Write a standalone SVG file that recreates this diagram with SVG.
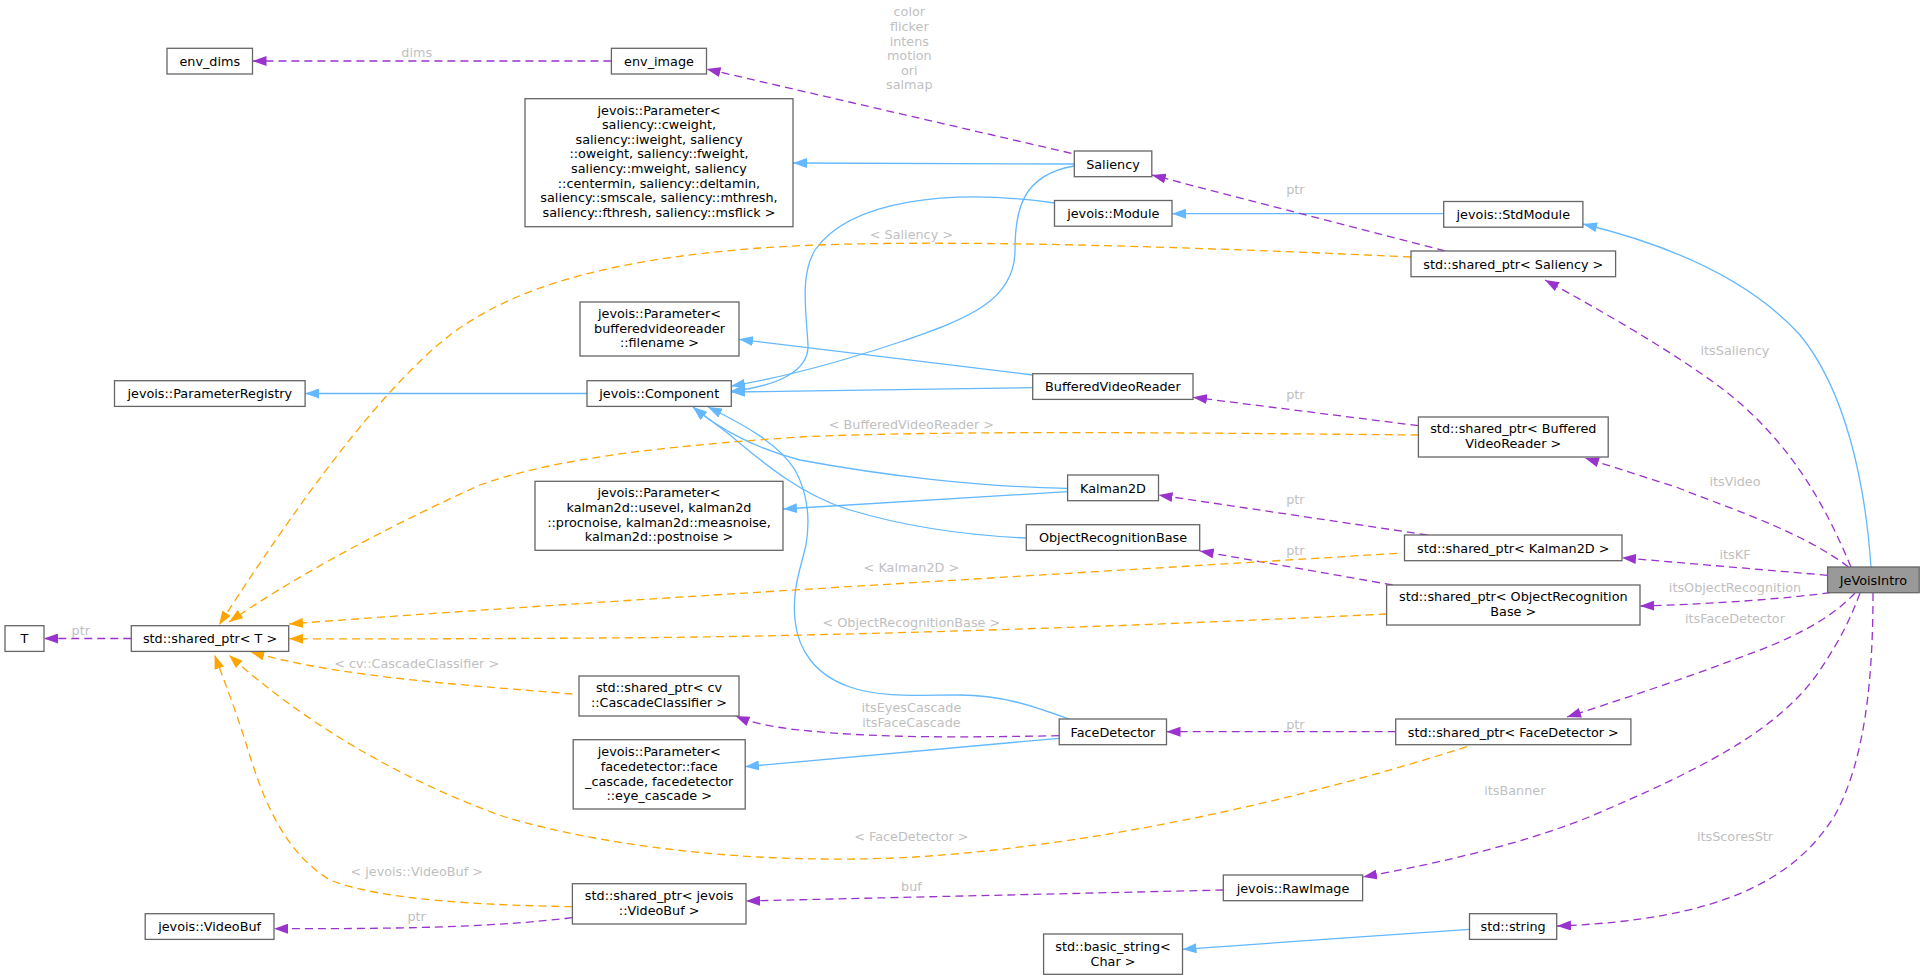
<svg xmlns="http://www.w3.org/2000/svg" width="1924" height="980" viewBox="0 0 1924 980">
<defs>
<style>
.n rect{fill:#ffffff;stroke:#666666;stroke-width:1.3}
.n text,.lbl{font-family:"DejaVu Sans","Liberation Sans",sans-serif;font-size:12.8px;text-anchor:middle}
.n text{fill:#000000}
.lbl{fill:#bfbfbf}
.inh{fill:none;stroke:#63b8ff;stroke-width:1.3;marker-end:url(#ab)}
.use{fill:none;stroke:#9a32cd;stroke-width:1.3;stroke-dasharray:8,5;marker-end:url(#ap)}
.tpl{fill:none;stroke:#ffa500;stroke-width:1.3;stroke-dasharray:8,5;marker-end:url(#ao)}
</style>
<marker id="ab" markerUnits="userSpaceOnUse" markerWidth="14" markerHeight="10" viewBox="0 0 14 10" refX="14" refY="5" orient="auto"><path d="M0,0 L14,5 L0,10 z" fill="#63b8ff"/></marker>
<marker id="ap" markerUnits="userSpaceOnUse" markerWidth="14" markerHeight="10" viewBox="0 0 14 10" refX="14" refY="5" orient="auto"><path d="M0,0 L14,5 L0,10 z" fill="#9a32cd"/></marker>
<marker id="ao" markerUnits="userSpaceOnUse" markerWidth="14" markerHeight="10" viewBox="0 0 14 10" refX="14" refY="5" orient="auto"><path d="M0,0 L14,5 L0,10 z" fill="#ffa500"/></marker>
</defs>
<rect x="0" y="0" width="1924" height="980" fill="#ffffff"/>

<g id="edges">
<!-- inheritance -->
<path class="inh" d="M1074,164 L793,163"/>
<path class="inh" d="M1074,166 C1022,175 1015,210 1015,250 C1015,300 970,318 900,342 C840,362 780,378 731,386"/>
<path class="inh" d="M1054.5,203 C950,188 850,200 815,250 C800,275 806,310 808,345 C809,370 780,386 731,391"/>
<path class="inh" d="M587,393.5 L305.1,393.5"/>
<path class="inh" d="M1032.7,375 L739,339.3"/>
<path class="inh" d="M1032.7,387.7 L731,392"/>
<path class="inh" d="M1067.6,488.3 C980,487 880,475 800,460 C760,450 720,430 693,407"/>
<path class="inh" d="M1067.6,491.7 L783,509"/>
<path class="inh" d="M1026,538 C960,535 900,525 850,510 C800,495 760,460 730,435 C715,423 703,415 693,407"/>
<path class="inh" d="M1069,719 C1030,705 1000,695 960,695 C920,695 880,698 850,687 C815,675 798,650 795,620 C792,590 800,570 806,545 C811,515 806,490 795,470 C780,445 745,425 708,407"/>
<path class="inh" d="M1059,738.3 L745,766.7"/>
<path class="inh" d="M1443.7,213.7 L1172,213.7"/>
<path class="inh" d="M1871,567 C1865,480 1845,390 1800,335 C1750,280 1670,245 1583,224"/>
<path class="inh" d="M1469.5,929.3 L1182.5,949.3"/>
<!-- usage -->
<path class="use" d="M611.4,61 L252.5,61"/>
<text class="lbl" x="416.7" y="57.3">dims</text>
<path class="use" d="M1071.4,153.3 L706.5,69"/>
<text class="lbl" x="909.3" y="16.3">color</text>
<text class="lbl" x="909.3" y="30.9">flicker</text>
<text class="lbl" x="909.3" y="45.5">intens</text>
<text class="lbl" x="909.3" y="60.1">motion</text>
<text class="lbl" x="909.3" y="74.7">ori</text>
<text class="lbl" x="909.3" y="89.3">salmap</text>
<path class="use" d="M1445,251 L1151.8,175"/>
<text class="lbl" x="1295.4" y="193.6">ptr</text>
<path class="use" d="M1418.4,425.7 L1193,397.3"/>
<text class="lbl" x="1295.4" y="399.3">ptr</text>
<path class="use" d="M1427.6,535 L1158.5,495"/>
<text class="lbl" x="1295.4" y="503.6">ptr</text>
<path class="use" d="M1392.7,585 L1199.7,551"/>
<text class="lbl" x="1295.4" y="555.3">ptr</text>
<path class="use" d="M1395.7,731.7 L1166.5,731.7"/>
<text class="lbl" x="1295.4" y="728.6">ptr</text>
<path class="use" d="M1059,735.7 C980,737 880,739 800,730 C770,727 750,722 735.5,716"/>
<text class="lbl" x="911.4" y="712.3">itsEyesCascade</text>
<text class="lbl" x="911.4" y="726.9">itsFaceCascade</text>
<path class="use" d="M572.4,917.7 C500,926 430,929 274,928.7"/>
<text class="lbl" x="416.7" y="921.3">ptr</text>
<path class="use" d="M1223.3,890 L746,901"/>
<text class="lbl" x="911.4" y="890.6">buf</text>
<path class="use" d="M131.3,638.5 L44,638.5"/>
<text class="lbl" x="80.8" y="635.3">ptr</text>
<path class="use" d="M1851,567 C1825,505 1790,440 1720,387 C1670,350 1600,310 1545,280"/>
<text class="lbl" x="1735" y="355.3">itsSaliency</text>
<path class="use" d="M1848.5,567 C1800,530 1720,505 1676,487 L1585,458"/>
<text class="lbl" x="1735" y="485.6">itsVideo</text>
<path class="use" d="M1827.6,575.3 L1622,557.7"/>
<text class="lbl" x="1735" y="558.9">itsKF</text>
<path class="use" d="M1830,592.7 C1790,598 1720,604 1640,606"/>
<text class="lbl" x="1735" y="592.3">itsObjectRecognition</text>
<path class="use" d="M1855,593 C1830,620 1790,640 1733,660 C1680,680 1620,700 1567,717"/>
<text class="lbl" x="1735" y="622.9">itsFaceDetector</text>
<path class="use" d="M1860,593 C1850,620 1840,640 1820,670 C1780,730 1700,770 1589,817 C1520,845 1430,865 1363,877"/>
<text class="lbl" x="1514.8" y="795.3">itsBanner</text>
<path class="use" d="M1873,593 C1873,680 1865,760 1835,815 C1795,880 1720,920 1557,926"/>
<text class="lbl" x="1735" y="840.6">itsScoresStr</text>
<!-- template -->
<path class="tpl" d="M1411,257 C1150,245 900,238 760,248 C600,260 510,290 450,335 C380,390 300,500 219,625"/>
<text class="lbl" x="911.4" y="238.9">&lt; Saliency &gt;</text>
<path class="tpl" d="M1418.4,435 C1200,433 950,430 800,437 C650,447 550,460 480,485 C380,530 290,580 229,622"/>
<text class="lbl" x="911.4" y="428.9">&lt; BufferedVideoReader &gt;</text>
<path class="tpl" d="M1397,553.3 C1100,572 600,600 289,624"/>
<text class="lbl" x="911.4" y="571.9">&lt; Kalman2D &gt;</text>
<path class="tpl" d="M1386.6,614 C1100,628 800,637 600,638 C450,639 350,639 289,638.7"/>
<text class="lbl" x="911.4" y="627.3">&lt; ObjectRecognitionBase &gt;</text>
<path class="tpl" d="M572.4,694 C480,686 340,678 250.4,651.7"/>
<text class="lbl" x="416.7" y="668">&lt; cv::CascadeClassifier &gt;</text>
<path class="tpl" d="M1466.8,746.7 C1300,800 1100,845 915,857 C750,866 600,845 505,817 C400,780 300,720 229,655"/>
<text class="lbl" x="911.4" y="841.3">&lt; FaceDetector &gt;</text>
<path class="tpl" d="M572.4,906.7 C480,905 380,900 330,880 C280,850 260,790 245,740 C232,700 220,670 214.6,655"/>
<text class="lbl" x="416.7" y="875.6">&lt; jevois::VideoBuf &gt;</text>
</g>

<g id="env_dims" class="n"><rect x="167" y="48.3" width="85.5" height="25.7"/><text x="209.8" y="65.8">env_dims</text></g>
<g id="env_image" class="n"><rect x="611.4" y="48.3" width="95.1" height="25.7"/><text x="659" y="65.8">env_image</text></g>
<g id="param_saliency" class="n"><rect x="525" y="98.7" width="268" height="128"/>
<text x="659" y="114.6">jevois::Parameter&lt;</text>
<text x="659" y="129.2">saliency::cweight,</text>
<text x="659" y="143.8">saliency::iweight, saliency</text>
<text x="659" y="158.4">::oweight, saliency::fweight,</text>
<text x="659" y="173">saliency::mweight, saliency</text>
<text x="659" y="187.6">::centermin, saliency::deltamin,</text>
<text x="659" y="202.2">saliency::smscale, saliency::mthresh,</text>
<text x="659" y="216.8">saliency::fthresh, saliency::msflick &gt;</text></g>
<g id="Saliency" class="n"><rect x="1074.3" y="151" width="77.5" height="25.7"/><text x="1113" y="168.5">Saliency</text></g>
<g id="Module" class="n"><rect x="1054.5" y="200.5" width="117.5" height="25.7"/><text x="1113.3" y="218">jevois::Module</text></g>
<g id="StdModule" class="n"><rect x="1443.7" y="201.5" width="139.2" height="25.7"/><text x="1513.3" y="219">jevois::StdModule</text></g>
<g id="sp_Saliency" class="n"><rect x="1411" y="251" width="204.6" height="25.7"/><text x="1513.3" y="268.5">std::shared_ptr&lt; Saliency &gt;</text></g>
<g id="param_bvr" class="n"><rect x="580" y="302" width="159" height="54"/>
<text x="659.5" y="317.9">jevois::Parameter&lt;</text>
<text x="659.5" y="332.6">bufferedvideoreader</text>
<text x="659.5" y="347.3">::filename &gt;</text></g>
<g id="ParameterRegistry" class="n"><rect x="114.5" y="380.7" width="190.6" height="25.7"/><text x="209.8" y="398.2">jevois::ParameterRegistry</text></g>
<g id="Component" class="n"><rect x="587" y="380.7" width="144.3" height="25.7"/><text x="659.2" y="398.2">jevois::Component</text></g>
<g id="BufferedVideoReader" class="n"><rect x="1032.7" y="373.7" width="160.3" height="25.7"/><text x="1112.9" y="391.2">BufferedVideoReader</text></g>
<g id="sp_BVR" class="n"><rect x="1418.4" y="417" width="189.8" height="40"/>
<text x="1513.3" y="433.3">std::shared_ptr&lt; Buffered</text>
<text x="1513.3" y="448">VideoReader &gt;</text></g>
<g id="Kalman2D" class="n"><rect x="1067.6" y="475" width="90.9" height="25.7"/><text x="1113" y="492.5">Kalman2D</text></g>
<g id="param_kalman" class="n"><rect x="535" y="481.3" width="248" height="69"/>
<text x="659" y="497.3">jevois::Parameter&lt;</text>
<text x="659" y="512">kalman2d::usevel, kalman2d</text>
<text x="659" y="526.7">::procnoise, kalman2d::measnoise,</text>
<text x="659" y="541.3">kalman2d::postnoise &gt;</text></g>
<g id="ObjectRecognitionBase" class="n"><rect x="1026.3" y="524.7" width="173.4" height="25.7"/><text x="1113" y="542.2">ObjectRecognitionBase</text></g>
<g id="sp_Kalman2D" class="n"><rect x="1404.5" y="535" width="217.5" height="25.7"/><text x="1513.3" y="552.5">std::shared_ptr&lt; Kalman2D &gt;</text></g>
<g id="sp_ORB" class="n"><rect x="1386.6" y="585" width="253.4" height="40"/>
<text x="1513.3" y="601.3">std::shared_ptr&lt; ObjectRecognition</text>
<text x="1513.3" y="616">Base &gt;</text></g>
<g id="JeVoisIntro" class="n"><rect x="1827.6" y="567" width="91.6" height="25.7" style="fill:#999999"/><text x="1873.4" y="584.5">JeVoisIntro</text></g>
<g id="T" class="n"><rect x="5" y="625.7" width="39" height="25.7"/><text x="24.5" y="643.2">T</text></g>
<g id="sp_T" class="n"><rect x="131.3" y="625.7" width="157.4" height="25.7"/><text x="210" y="643.2">std::shared_ptr&lt; T &gt;</text></g>
<g id="sp_cv" class="n"><rect x="579" y="676" width="160" height="40"/>
<text x="659" y="692.3">std::shared_ptr&lt; cv</text>
<text x="659" y="707">::CascadeClassifier &gt;</text></g>
<g id="param_face" class="n"><rect x="573.2" y="739.7" width="172" height="69.3"/>
<text x="659.2" y="756.3">jevois::Parameter&lt;</text>
<text x="659.2" y="771">facedetector::face</text>
<text x="659.2" y="785.6">_cascade, facedetector</text>
<text x="659.2" y="800.3">::eye_cascade &gt;</text></g>
<g id="FaceDetector" class="n"><rect x="1059.2" y="719" width="107.3" height="25.7"/><text x="1112.9" y="736.5">FaceDetector</text></g>
<g id="sp_FaceDetector" class="n"><rect x="1395.7" y="719" width="235.2" height="25.7"/><text x="1513.3" y="736.5">std::shared_ptr&lt; FaceDetector &gt;</text></g>
<g id="VideoBuf" class="n"><rect x="145.2" y="913.7" width="128.8" height="25.7"/><text x="209.6" y="931.2">jevois::VideoBuf</text></g>
<g id="sp_VideoBuf" class="n"><rect x="572.4" y="883.7" width="173.6" height="40.3"/>
<text x="659.2" y="900.3">std::shared_ptr&lt; jevois</text>
<text x="659.2" y="914.8">::VideoBuf &gt;</text></g>
<g id="RawImage" class="n"><rect x="1223.3" y="875" width="139.3" height="25.7"/><text x="1293" y="892.5">jevois::RawImage</text></g>
<g id="basic_string" class="n"><rect x="1043.6" y="934" width="138.9" height="40.3"/>
<text x="1113" y="951.3">std::basic_string&lt;</text>
<text x="1113" y="966">Char &gt;</text></g>
<g id="std_string" class="n"><rect x="1469.5" y="913.7" width="87.2" height="25.7"/><text x="1513.1" y="931.2">std::string</text></g>
</svg>
